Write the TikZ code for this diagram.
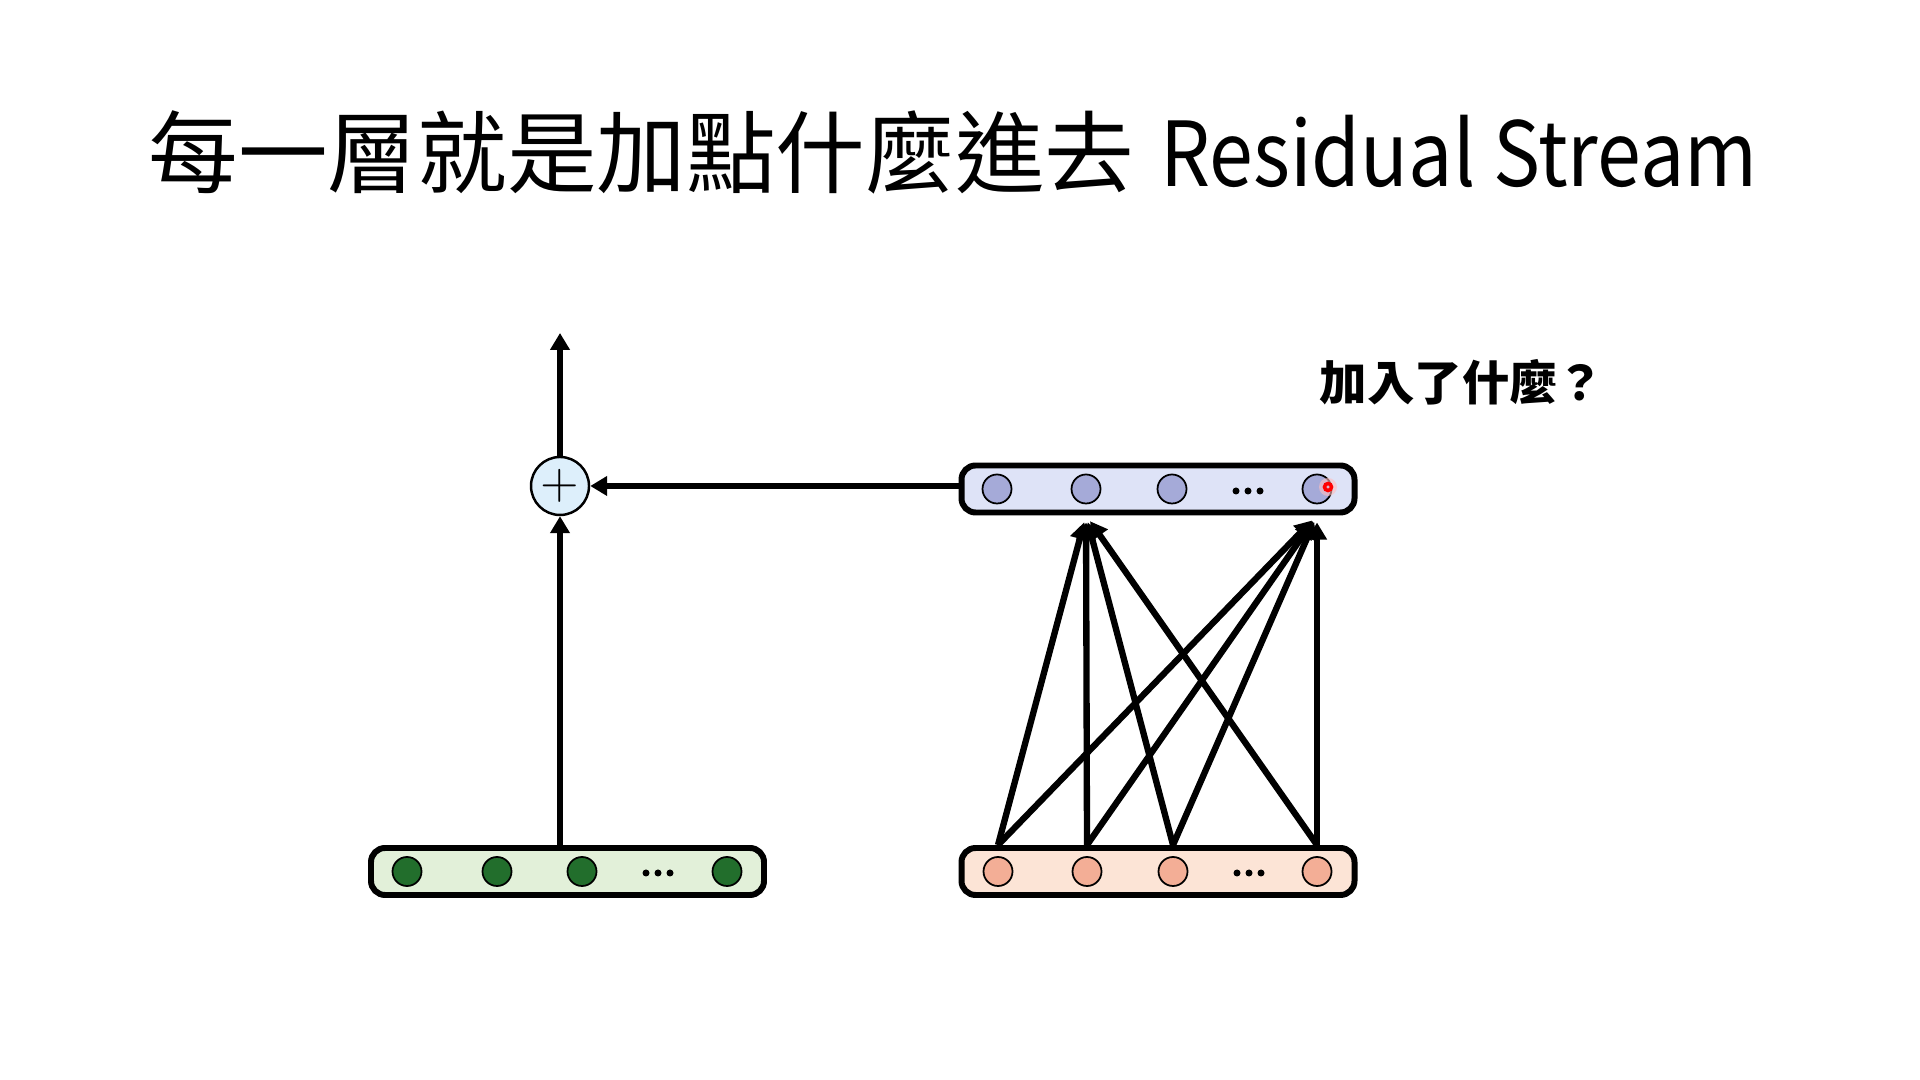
\documentclass[tikz,border=0pt]{standalone}
\usepackage{fontspec}
\setmainfont{Noto Sans CJK TC}
\usepackage{xcolor}
\usepackage{tikz}
\usetikzlibrary{shapes,arrows.meta,positioning}

\definecolor{greenfill}{HTML}{E2F0D9}
\definecolor{greenunit}{HTML}{226E2C}
\definecolor{bluefill}{HTML}{DEE3F7}
\definecolor{blueunit}{HTML}{A5AAD8}
\definecolor{orangefill}{HTML}{FCE4D6}
\definecolor{orangeunit}{HTML}{F3AE96}
\definecolor{plusfill}{HTML}{DDEFFB}

\begin{document}
\begin{tikzpicture}[
  vecbox/.style={draw, line width=1.7pt, rounded corners=4pt, minimum width=3.93cm, minimum height=0.47cm, inner sep=0pt},
  unit/.style={circle, draw, line width=0.5pt, minimum size=0.29cm, inner sep=0pt},
  dotdot/.style={circle, fill, minimum size=0.07cm, inner sep=0pt},
  flow/.style={line width=1.8pt, -{Triangle[length=0.17cm,width=0.19cm]}},
]
\useasboundingbox (0,0) rectangle (19.2,10.8);

% Titre
\node (title) at (9.53,9.28) {\fontsize{25.5}{30}\selectfont 每一層就是加點什麼進去\hspace{0.26cm}\scalebox{0.88}[1]{Residual Stream}};

% Vecteur d'entrée (residual stream)
\node[vecbox, fill=greenfill] (resid) at (5.675,2.085) {};
\foreach \x/\n in {4.07/g1, 4.97/g2, 5.82/g3, 7.27/g4}
  \node[unit, fill=greenunit] (\n) at (\x,2.085) {};
\foreach \x in {6.46,6.58,6.70}
  \node[dotdot] at (\x,2.07) {};

% Couche : entrée
\node[vecbox, fill=orangefill] (inlayer) at (11.58,2.085) {};
\foreach \x/\n in {9.98/o1, 10.87/o2, 11.73/o3, 13.17/o4}
  \node[unit, fill=orangeunit] (\n) at (\x,2.085) {};
\foreach \x in {12.37,12.49,12.61}
  \node[dotdot] at (\x,2.07) {};

% Couche : sortie
\node[vecbox, fill=bluefill] (outlayer) at (11.58,5.91) {};
\foreach \x/\n in {9.97/b1, 10.86/b2, 11.72/b3, 13.17/b4}
  \node[unit, fill=blueunit] (\n) at (\x,5.91) {};
\foreach \x in {12.36,12.48,12.60}
  \node[dotdot] at (\x,5.89) {};

% Pointeur
\fill[red!25, opacity=0.6] (13.28,5.93) circle (0.09);
\draw[red, line width=1pt] (13.28,5.93) circle (0.035);

% Addition
\node[circle, draw, line width=0.7pt, fill=plusfill, minimum size=0.58cm, inner sep=0pt] (plus) at (5.60,5.94) {\Large $+$};
\coordinate (top) at (5.60,7.47);

\draw[flow] (resid.north -| plus) -- (plus.south);
\draw[flow] (outlayer.west |- plus) -- (plus.east);
\draw[flow] (plus.north) -- (top);

% Connexions
\foreach \s in {o1,o2,o3,o4}
  \foreach \t in {b2,b4}
    \draw[flow, shorten >=2pt] (\s |- inlayer.north) -- (\t |- outlayer.south);

% Question
\node (question) at (14.62,6.98) {\fontsize{13.5}{16}\selectfont\bfseries 加入了什麼？};

\end{tikzpicture}
\end{document}
